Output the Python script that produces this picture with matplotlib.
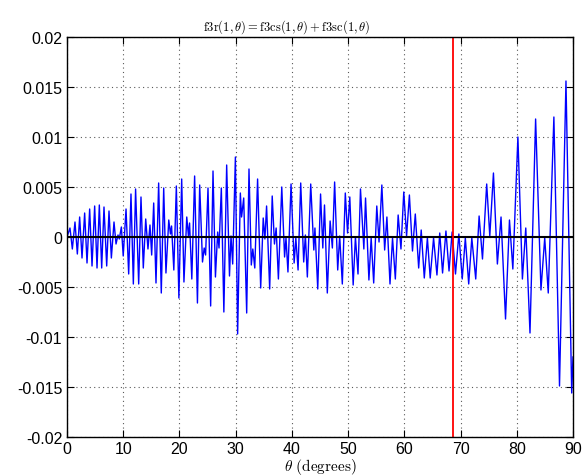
import matplotlib
matplotlib.use('Agg')
import matplotlib.pyplot as plt
import numpy as np

plt.rcParams['font.family'] = ['Liberation Sans', 'DejaVu Sans']
plt.rcParams['mathtext.fontset'] = 'cm'
plt.rcParams['axes.unicode_minus'] = False

# local maxima / minima of f3r(1, theta)
theta_pk = [0.0, 0.53, 0.95, 1.42, 1.84, 2.25, 2.67, 3.14, 3.56, 4.03,
            4.45, 4.92, 5.34, 5.75, 6.17, 6.58, 7.06, 7.47, 7.89, 8.36,
            8.72, 9.07, 9.30, 9.67, 10.0, 10.5, 10.97, 11.38, 11.8, 12.2,
            12.75, 13.16, 13.57, 14.0, 14.4, 14.76, 15.06, 15.42, 15.83, 16.3,
            16.77, 17.2, 17.6, 18.1, 18.4, 18.6, 19.0, 19.45, 19.9, 20.4,
            20.8, 21.3, 21.6, 21.8, 22.2, 22.7, 23.2, 23.6, 24.1, 24.4,
            24.65, 25.08, 25.55, 25.97, 26.4, 26.8, 27.04, 27.45, 27.9, 28.4,
            28.9, 29.17, 29.47, 29.95, 30.35, 30.83, 31.05, 31.43, 31.96, 32.37,
            32.78, 33.05, 33.4, 33.9, 34.45, 34.9, 35.2, 35.5, 36.05, 36.5,
            36.9, 37.2, 37.6, 38.2, 38.7, 38.95, 39.3, 39.85, 40.4, 40.7,
            41.1, 41.57, 42.1, 42.4, 42.75, 43.35, 43.9, 44.1, 44.6, 45.1,
            45.5, 45.8, 46.3, 46.8, 47.2, 47.6, 48.15, 48.5, 48.97, 49.5,
            49.9, 50.3, 50.9, 51.3, 51.76, 52.2, 52.8, 53.1, 53.7, 54.1,
            54.55, 55.1, 55.5, 56.0, 56.5, 56.9, 57.45, 57.9, 58.4, 58.9,
            59.4, 59.9, 60.4, 60.9, 61.45, 61.95, 62.55, 63.0, 63.55, 64.1,
            64.6, 65.2, 65.8, 66.3, 66.8, 67.4, 67.95, 68.5, 69.1, 69.7,
            70.3, 70.85, 71.45, 72.0, 72.7, 73.3, 73.9, 74.65, 75.2, 75.85,
            76.55, 77.2, 78.0, 78.7, 79.3, 80.2, 81.0, 81.6, 82.35, 83.35,
            84.3, 84.97, 85.6, 86.6, 87.6, 88.75, 89.77, 90.0]
f3r_pk = [0.0, 0.0009, -0.0012, 0.0015, -0.0017, 0.0020, -0.0021, 0.0024, -0.0026, 0.0028,
          -0.0029, 0.0031, -0.0031, 0.0032, -0.0031, 0.0030, -0.0029, 0.0026, -0.0021, 0.0015,
          -0.0007, 0.0002, -0.0002, 0.0010, -0.0019, 0.0028, -0.0037, 0.0043, -0.0047, 0.0048,
          -0.0047, 0.0040, -0.0031, 0.0018, -0.0012, 0.0012, -0.0018, 0.0034, -0.0046, 0.0054,
          -0.0056, 0.0049, -0.0036, 0.0017, 0.0003, 0.0011, -0.0033, 0.0051, -0.0061, 0.0058,
          -0.0045, 0.0020, 0.0001, 0.0014, -0.0042, 0.0061, -0.0066, 0.0052, -0.0025, -0.0011,
          -0.0018, 0.0049, -0.0069, 0.0066, -0.0040, 0.0005, -0.0011, 0.0049, -0.0075, 0.0072,
          -0.0039, 0.0001, -0.0027, 0.0080, -0.0097, 0.0044, 0.0020, 0.0039, -0.0076, 0.0068,
          -0.0028, -0.0012, -0.0031, 0.0058, -0.0051, 0.0019, -0.0002, 0.0031, -0.0052, 0.0041,
          -0.0007, 0.0009, -0.0042, 0.0050, -0.0020, -0.0001, -0.0035, 0.0053, -0.0026, -0.0001,
          -0.0033, 0.0054, -0.0025, 0.0002, -0.0040, 0.0053, -0.0013, 0.0009, -0.0052, 0.0043,
          -0.0011, 0.0032, -0.0056, 0.0016, -0.0011, 0.0055, -0.0033, 0.0001, -0.0047, 0.0044,
          0.0004, 0.0040, -0.0048, 0.0000, -0.0037, 0.0048, -0.0012, 0.0039, -0.0043, -0.0001,
          -0.0046, 0.0031, -0.0005, 0.0052, -0.0013, 0.0020, -0.0047, -0.0001, -0.0042, 0.0022,
          -0.0012, 0.0045, 0.0001, 0.0042, -0.0014, 0.0023, -0.0031, 0.0007, -0.0041, -0.0001,
          -0.0041, -0.0001, -0.0038, 0.0004, -0.0036, 0.0006, -0.0034, 0.0005, -0.0037, 0.0003,
          -0.0042, -0.0001, -0.0047, -0.0001, -0.0042, 0.0021, -0.0022, 0.0053, 0.0001, 0.0064,
          -0.0027, 0.0020, -0.0082, 0.0017, -0.0032, 0.0100, -0.0042, 0.0009, -0.0096, 0.0118,
          -0.0053, -0.0001, -0.0056, 0.0120, -0.0149, 0.0156, -0.0156, -0.0120]

theta_mark = 68.6

xticks = [0, 10, 20, 30, 40, 50, 60, 70, 80, 90]
yticks = [-0.02, -0.015, -0.01, -0.005, 0, 0.005, 0.01, 0.015, 0.02]
ytick_labels = ['-0.02', '-0.015', '-0.01', '-0.005', '0', '0.005', '0.01', '0.015', '0.02']

fig = plt.figure(figsize=(5.87, 4.77), dpi=100)
ax = fig.add_axes([67/587, 39/477, 506/587, 400/477])

ax.plot(theta_pk, f3r_pk, color='blue', lw=1.0)
ax.axhline(0, color='black', lw=1.5)
ax.axvline(theta_mark, color='red', lw=1.3)

ax.set_xlim(0, 90)
ax.set_ylim(-0.02, 0.02)
ax.set_xticks(xticks)
ax.set_yticks(yticks)
ax.set_yticklabels(ytick_labels)
ax.grid(True, linestyle=(0, (1, 3)), color='0.35', lw=0.8)
ax.tick_params(direction='in', top=True, right=True, labelsize=11.5, length=5)
ax.tick_params(axis='x', pad=3)
for s in ax.spines.values():
    s.set_linewidth(1.0)

ax.set_title(r'$\mathrm{f3r}(1,\theta) = \mathrm{f3cs}(1,\theta) + \mathrm{f3sc}(1,\theta)$',
             fontsize=9, pad=5, x=0.435)
ax.set_xlabel(r'$\theta\ \mathrm{(degrees)}$', fontsize=11, labelpad=0)

fig.savefig('out.png', dpi=100)
